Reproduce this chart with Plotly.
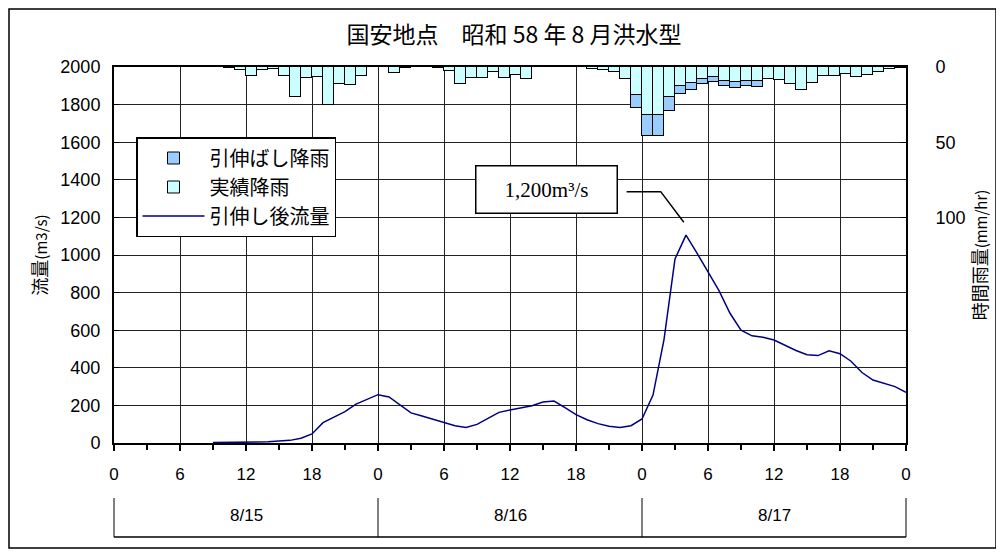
import plotly.graph_objects as go

# ---------------- data ----------------
hours_rain = list(range(72))  # start hour of each hourly rain bar (0 = 8/15 0:00)
rain_actual = [0, 0, 0, 0, 0, 0, 0, 0, 0, 0,
               0.5, 2, 6, 2, 1.3, 5.8, 20, 7.3, 6.7, 25,
               11.3, 12.2, 6.2, 0.3, 0, 4, 0.8, 0.3, 0, 0.4,
               2.7, 11, 7.5, 7.1, 3.1, 7, 5.5, 8.3, 0, 0.3,
               0, 0.3, 0, 1.2, 2.1, 3.6, 8.3, 18.8, 31.8, 31.8,
               19.8, 12.4, 10.7, 8.2, 6.9, 9.1, 10, 9.1, 9.5, 8.2,
               8.9, 11.1, 15.6, 10.7, 6.2, 6.2, 4.7, 6.4, 5.6, 3.6,
               1.6, 0.7]
# stretched rainfall (total) where it differs from actual (hours 47-58)
stretch_hours = [47, 48, 49, 50, 51, 52, 53, 54, 55, 56, 57, 58]
rain_stretched = [27.2, 46, 46, 29.1, 17.8, 15.3, 11.3, 10, 12.7, 14, 12.7, 13.1]

flow_hours = list(range(9, 73))
flow = [2, 2, 3, 4, 5, 7, 9, 14, 25, 48,
        108, 137, 167, 207, 232, 257, 245, 200, 160, 144,
        126, 108, 92, 83, 99, 131, 163, 176, 186, 198,
        218, 223, 188, 151, 124, 103, 89, 83, 92, 128,
        255, 550, 979, 1106, 1010, 910, 810, 690, 600, 570,
        562, 548, 520, 492, 470, 465, 490, 475, 435, 375,
        335, 318, 300, 270]

x_tickvals = list(range(0, 73, 6))
x_ticktext = ["0", "6", "12", "18"] * 3 + ["0"]
date_labels = ["8/15", "8/16", "8/17"]
title_text = "国安地点　昭和 58 年 8 月洪水型"
peak_label = "1,200m³/s"

# ---------------- derived ----------------
bar_x = [h + 0.5 for h in hours_rain]
actual_vals = [v if v > 0 else None for v in rain_actual]
extra = {h: s - rain_actual[h] for h, s in zip(stretch_hours, rain_stretched)}
extra_vals = [extra.get(h) for h in hours_rain]

JP = "Noto Sans CJK JP"
NUM = "Liberation Sans, Arial, sans-serif"

fig = go.Figure()
fig.add_trace(go.Bar(
    x=bar_x, y=actual_vals, yaxis="y2", name="実績降雨",
    marker=dict(color="#ccffff", line=dict(color="black", width=1)),
    width=1, legendrank=2, legendgroup="b"))
fig.add_trace(go.Bar(
    x=bar_x, y=extra_vals, yaxis="y2", name="引伸ばし降雨",
    marker=dict(color="#99ccff", line=dict(color="black", width=1)),
    width=1, legendrank=1, legendgroup="a"))
fig.add_trace(go.Scatter(
    x=flow_hours, y=flow, mode="lines", name="引伸し後流量",
    line=dict(color="#000080", width=1.5), legendrank=3, legendgroup="c"))

# screen-pixel layout (page has an 8px body margin)
OFF = 8
PX_L, PX_R, PX_T, PX_B = 114, 906, 67, 443
PW, PH = PX_R - PX_L, PX_B - PX_T
FIG_W, FIG_H = 990, 541


def px(xp):
    return (xp - PX_L) / PW


def py(yp):
    return (PX_B - yp) / PH


shapes = []
for k in range(4):
    shapes.append(dict(type="line", xref="paper", yref="paper",
                       x0=k / 3, x1=k / 3, y0=py(498), y1=py(537),
                       line=dict(color="black", width=1)))
shapes.append(dict(type="line", xref="paper", yref="paper",
                   x0=0, x1=1, y0=py(537), y1=py(537),
                   line=dict(color="black", width=1.5)))
shapes.append(dict(type="rect", xref="paper", yref="paper",
                   x0=px(9), x1=px(996), y0=py(9), y1=py(548),
                   line=dict(color="black", width=1.5), layer="below"))
shapes.append(dict(type="path", xref="x", yref="y",
                   path="M 46.6 1337 L 49.7 1337 L 51.8 1174",
                   line=dict(color="black", width=1.5)))

annotations = []
for i, lab in enumerate(date_labels):
    annotations.append(dict(text=lab, xref="paper", yref="paper",
                            x=(2 * i + 1) / 6, y=py(516), yanchor="middle",
                            xanchor="center", showarrow=False,
                            font=dict(family=NUM, size=17, color="black")))
annotations.append(dict(text=peak_label, xref="x", yref="y", x=39.36, y=1346,
                        showarrow=False, bordercolor="black", borderwidth=1.5,
                        bgcolor="white", width=138, height=44,
                        font=dict(family="Liberation Serif, DejaVu Serif", size=21,
                                  color="black")))

fig.update_layout(
    width=FIG_W, height=FIG_H,
    margin=dict(l=PX_L - OFF, r=FIG_W - (PX_R - OFF), t=PX_T - OFF,
                b=FIG_H - (PX_B - OFF)),
    paper_bgcolor="white", plot_bgcolor="white",
    barmode="stack", bargap=0,
    font=dict(family=JP, color="black"),
    title=dict(text=title_text, x=(514 - OFF) / FIG_W, xref="container",
               xanchor="center", y=1 - (35 - OFF) / FIG_H, yanchor="middle",
               font=dict(family=JP, size=23, color="black")),
    xaxis=dict(range=[0, 72], tickvals=x_tickvals, ticktext=x_ticktext,
               ticks="outside", ticklen=6, tickcolor="black", tickwidth=1.5,
               minor=dict(dtick=3, tick0=0, ticks="outside", ticklen=5,
                          tickcolor="black", showgrid=False),
               showgrid=True, gridcolor="#222222", gridwidth=1,
               showline=True, linecolor="black", linewidth=2, mirror=True,
               zeroline=False, ticklabelstandoff=9,
               tickfont=dict(family=NUM, size=17, color="black")),
    yaxis=dict(range=[0, 2000], dtick=200, ticks="inside", ticklen=5,
               tickcolor="black", showgrid=True, gridcolor="#222222", gridwidth=1,
               showline=True, linecolor="black", linewidth=2, zeroline=False,
               ticklabelstandoff=8,
               tickfont=dict(family=NUM, size=18, color="black"),
               title=dict(text="流量<span style='font-size:15px'>(m3/s)</span>",
                          standoff=8, font=dict(family=JP, size=18, color="black"))),
    yaxis2=dict(range=[250, 0], overlaying="y", side="right",
                tickvals=[0, 50, 100], ticks="inside", ticklen=5,
                tickcolor="black", showgrid=False, showline=True,
                linecolor="black", linewidth=2, zeroline=False,
                ticklabelstandoff=24,
                tickfont=dict(family=NUM, size=18, color="black"),
                title=dict(text="時間雨量<span style='font-size:15px'>(mm/hr)</span>",
                           standoff=8, font=dict(family=JP, size=18, color="black"))),
    legend=dict(x=px(136), y=py(137), xanchor="left", yanchor="top",
                bgcolor="white", bordercolor="black", borderwidth=1.5,
                font=dict(family=JP, size=20, color="black"),
                traceorder="normal", tracegroupgap=5, itemwidth=62),
    showlegend=True,
    shapes=shapes, annotations=annotations,
)

fig.write_html("out.html")
